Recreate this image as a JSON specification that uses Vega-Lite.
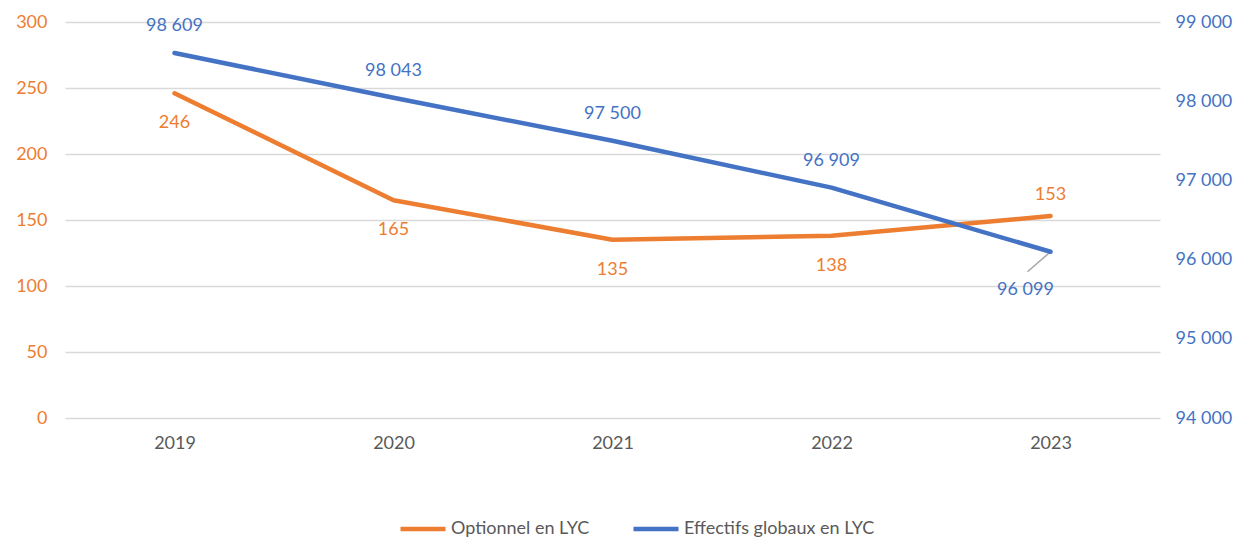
{
  "$schema": "https://vega.github.io/schema/vega-lite/v6.json",
  "width": 1095,
  "height": 396,
  "autosize": "none",
  "padding": {"left": 65, "top": 22, "right": 76, "bottom": 121},
  "background": "white",
  "config": {
    "font": "Lato",
    "view": {"stroke": null},
    "locale": {"number": {"decimal": ",", "thousands": " ", "grouping": [3], "currency": ["", " €"]}}
  },
  "data": {
    "values": [
      {"annee": "2019", "optionnel": 246, "effectifs": 98609},
      {"annee": "2020", "optionnel": 165, "effectifs": 98043},
      {"annee": "2021", "optionnel": 135, "effectifs": 97500},
      {"annee": "2022", "optionnel": 138, "effectifs": 96909},
      {"annee": "2023", "optionnel": 153, "effectifs": 96099}
    ]
  },
  "encoding": {
    "x": {
      "field": "annee", "type": "ordinal",
      "scale": {"type": "point", "padding": 0.5},
      "axis": {"title": null, "labelAngle": 0, "domain": false, "ticks": false, "labelColor": "#595959", "labelFontSize": 18, "labelPadding": 16, "grid": false}
    }
  },
  "layer": [
    {
      "encoding": {
        "y": {
          "field": "optionnel", "type": "quantitative",
          "scale": {"domain": [0, 300], "nice": false},
          "axis": {"title": null, "orient": "left", "values": [0, 50, 100, 150, 200, 250, 300], "domain": false, "ticks": false, "labelColor": "#ED7D31", "labelFontSize": 18, "labelPadding": 18, "gridColor": "#d9d9d9", "gridWidth": 1.5}
        }
      },
      "layer": [
        {
          "mark": {"type": "line", "strokeWidth": 4.5, "strokeCap": "round", "strokeJoin": "round"},
          "encoding": {
            "color": {"datum": "Optionnel en LYC", "type": "nominal",
              "scale": {"domain": ["Optionnel en LYC", "Effectifs globaux en LYC"], "range": ["#ED7D31", "#4472C4"]},
              "legend": {"title": null, "orient": "none", "legendX": 333, "legendY": 482, "direction": "horizontal", "symbolType": "stroke", "symbolSize": 2025, "symbolStrokeWidth": 4.5, "labelFontSize": 18, "labelColor": "#595959", "labelOffset": 3, "labelLimit": 400, "columnPadding": 34}
            }
          }
        },
        {
          "transform": [{"filter": "datum.annee != '2023'"}],
          "mark": {"type": "text", "dy": 30, "fontSize": 18, "color": "#ED7D31"},
          "encoding": {"text": {"field": "optionnel", "type": "quantitative", "format": ",d"}}
        },
        {
          "transform": [{"filter": "datum.annee == '2023'"}],
          "mark": {"type": "text", "dy": -21, "fontSize": 18, "color": "#ED7D31"},
          "encoding": {"text": {"field": "optionnel", "type": "quantitative", "format": ",d"}}
        }
      ]
    },
    {
      "encoding": {
        "y": {
          "field": "effectifs", "type": "quantitative",
          "scale": {"domain": [94000, 99000], "nice": false, "zero": false},
          "axis": {"title": null, "orient": "right", "values": [94000, 95000, 96000, 97000, 98000, 99000], "format": ",d", "domain": false, "ticks": false, "grid": false, "labelColor": "#4472C4", "labelFontSize": 18, "labelPadding": 15}
        }
      },
      "layer": [
        {
          "mark": {"type": "rule", "color": "#a6a6a6", "strokeWidth": 1.5, "x2Offset": -23, "y2Offset": 20},
          "transform": [{"filter": "datum.annee == '2023'"}],
          "encoding": {
            "x2": {"field": "annee"},
            "y2": {"field": "effectifs"}
          }
        },
        {
          "mark": {"type": "line", "strokeWidth": 4.5, "strokeCap": "round", "strokeJoin": "round"},
          "encoding": {
            "color": {"datum": "Effectifs globaux en LYC", "type": "nominal"}
          }
        },
        {
          "transform": [{"filter": "datum.annee != '2023'"}],
          "mark": {"type": "text", "dy": -27, "fontSize": 18, "color": "#4472C4"},
          "encoding": {"text": {"field": "effectifs", "type": "quantitative", "format": ",d"}}
        },
        {
          "transform": [{"filter": "datum.annee == '2023'"}],
          "mark": {"type": "text", "dy": 38, "dx": -25, "fontSize": 18, "color": "#4472C4"},
          "encoding": {"text": {"field": "effectifs", "type": "quantitative", "format": ",d"}}
        }
      ]
    }
  ],
  "resolve": {"scale": {"y": "independent"}}
}
